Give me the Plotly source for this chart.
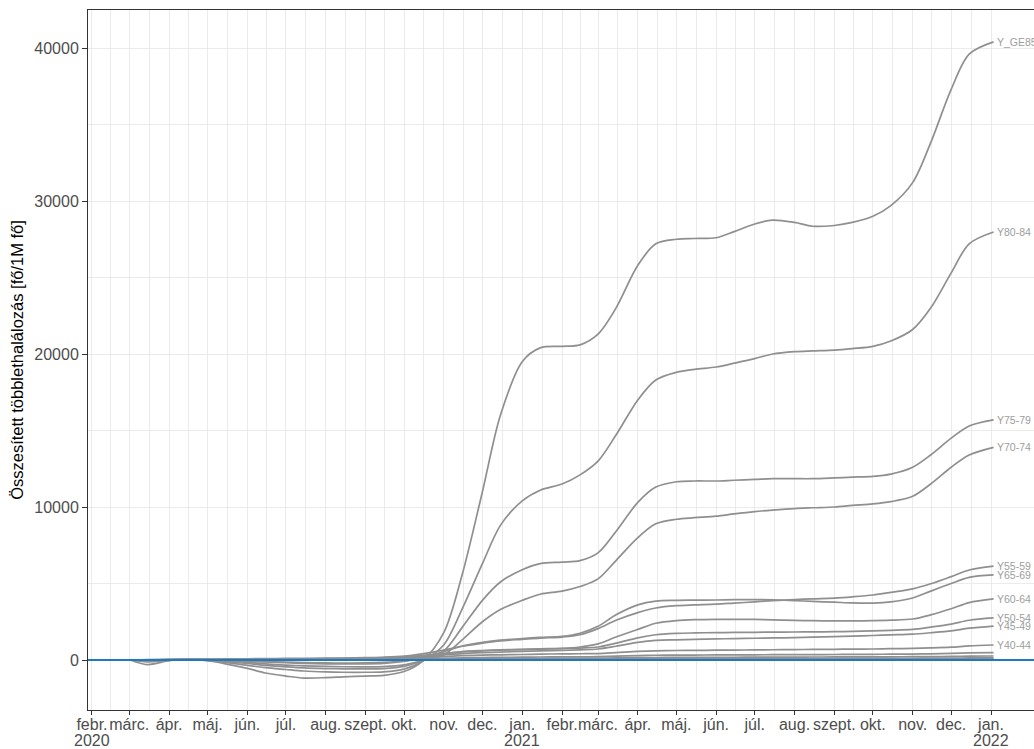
import pandas as pd
import plotly.graph_objects as go

# Sampling dates (roughly twice a month) for the cumulative excess-mortality curves
dates = [
    "2020-03-02", "2020-03-15", "2020-04-01", "2020-04-15", "2020-05-01", "2020-05-15",
    "2020-06-01", "2020-06-15", "2020-07-01", "2020-07-15", "2020-08-01", "2020-08-15",
    "2020-09-01", "2020-09-15", "2020-10-01", "2020-10-15", "2020-11-01", "2020-11-15",
    "2020-12-01", "2020-12-15",
    "2021-01-01", "2021-01-15", "2021-02-01", "2021-02-15", "2021-03-01", "2021-03-15",
    "2021-04-01", "2021-04-15", "2021-05-01", "2021-05-15", "2021-06-01", "2021-06-15",
    "2021-07-01", "2021-07-15", "2021-08-01", "2021-08-15", "2021-09-01", "2021-09-15",
    "2021-10-01", "2021-10-15", "2021-11-01", "2021-11-15", "2021-12-01", "2021-12-15",
    "2022-01-03",
]

# Cumulative excess deaths per million, by age group
y_ge85 = [0, -300, -50, 50, -50, -250, -550, -850, -1050, -1180, -1150, -1100, -1050, -1000,
          -750, -100, 1800, 5500, 11000, 16000,
          19500, 20400, 20500, 20600, 21300, 23000, 25800, 27200, 27500, 27550, 27600, 28000,
          28500, 28750, 28600, 28350, 28400, 28600, 29000, 29700, 31200, 33800, 37300, 39600,
          40400]
y80_84 = [0, -120, -20, 30, -30, -150, -350, -500, -620, -720, -780, -800, -800, -780,
          -600, -100, 1000, 3300, 6300, 8800,
          10400, 11100, 11500, 12100, 13000, 14700, 17000, 18300, 18800, 19000, 19150, 19400,
          19700, 20000, 20150, 20200, 20250, 20350, 20500, 20850, 21600, 23000, 25300, 27200,
          27970]
y75_79 = [0, -60, 0, 20, -20, -100, -230, -350, -450, -520, -560, -580, -580, -560,
          -420, -50, 600, 2100, 3900, 5100,
          5900, 6300, 6400, 6500, 7000, 8400, 10300, 11300, 11650, 11700, 11700, 11750,
          11800, 11850, 11850, 11850, 11900, 11950, 12000, 12150, 12600, 13400, 14500, 15300,
          15700]
y70_74 = [0, -40, 0, 20, 0, -60, -150, -250, -330, -380, -420, -440, -450, -430,
          -320, -50, 350, 1300, 2500, 3300,
          3900, 4300, 4500, 4800, 5300, 6500, 8000, 8900, 9200, 9300, 9400, 9550,
          9700, 9800, 9900, 9950, 10000, 10100, 10200, 10350, 10700, 11500, 12600, 13400,
          13900]
y65_69 = [0, 20, 40, 60, 30, -30, -80, -130, -180, -220, -250, -260, -260, -230,
          -100, 150, 550, 900, 1150, 1300,
          1400, 1480, 1550, 1750, 2200, 2950, 3600, 3850, 3900, 3910, 3920, 3940,
          3950, 3930, 3880, 3830, 3780, 3730, 3720, 3800, 4050, 4500, 5000, 5400,
          5560]
y60_64 = [0, 10, 20, 30, 10, -20, -60, -100, -140, -170, -190, -200, -190, -150,
          -50, 150, 400, 550, 620, 660,
          700, 730, 760, 850, 1050, 1500, 2000, 2400, 2580, 2640, 2660, 2660,
          2650, 2620, 2590, 2570, 2560, 2560, 2570, 2600, 2680, 2950, 3350, 3750,
          3990]
y55_59 = [0, 10, 30, 50, 60, 70, 80, 90, 100, 110, 120, 130, 150, 180,
          250, 400, 650, 900, 1100, 1250,
          1350, 1430, 1500, 1650, 2050, 2600, 3100, 3400, 3550, 3600, 3650, 3720,
          3800, 3880, 3950, 4000, 4050, 4130, 4250, 4420, 4650, 4980, 5450, 5880,
          6140]
y50_54 = [0, 10, 20, 30, 40, 50, 55, 60, 70, 80, 90, 100, 120, 150,
          200, 300, 430, 530, 600, 640,
          680, 710, 740, 780, 850, 1100, 1450, 1650, 1740, 1770, 1790, 1800,
          1810, 1820, 1830, 1840, 1850, 1870, 1900, 1940, 2000, 2150, 2350, 2600,
          2750]
y45_49 = [0, 5, 10, 20, 30, 40, 45, 50, 55, 60, 70, 80, 90, 110,
          150, 220, 330, 420, 480, 520,
          560, 590, 620, 660, 720, 900, 1150, 1280, 1320, 1350, 1380, 1400,
          1420, 1440, 1460, 1490, 1530, 1560, 1600, 1640, 1690, 1780, 1900, 2080,
          2220]
y40_44 = [0, 5, 10, 15, 20, 25, 30, 35, 40, 45, 50, 60, 70, 80,
          100, 150, 220, 280, 320, 340,
          360, 380, 400, 410, 420, 480, 560, 600, 620, 630, 640, 650,
          660, 670, 680, 690, 700, 710, 720, 740, 760, 790, 840, 920,
          980]
y35_39 = [0, 0, 5, 10, 10, 15, 15, 20, 20, 25, 30, 35, 40, 45,
          55, 80, 110, 140, 160, 175,
          185, 195, 205, 210, 220, 250, 290, 310, 320, 325, 330, 335,
          340, 345, 350, 355, 360, 365, 370, 380, 390, 405, 430, 460,
          480]
y30_34 = [0, 0, 0, 5, 5, 5, 10, 10, 10, 15, 15, 20, 20, 25,
          30, 45, 60, 75, 85, 95,
          100, 105, 110, 115, 120, 135, 155, 165, 170, 175, 180, 180,
          185, 190, 190, 195, 200, 205, 205, 210, 215, 225, 235, 250,
          260]
y25_29 = [0, 0, 0, 0, 5, 5, 5, 5, 5, 10, 10, 10, 10, 15,
          15, 20, 30, 40, 45, 50,
          55, 60, 60, 65, 65, 75, 85, 90, 90, 95, 95, 100,
          100, 100, 105, 105, 110, 110, 110, 115, 115, 120, 125, 135,
          140]
y20_24 = [0, 0, 0, 0, 0, 0, 5, 5, 5, 5, 5, 5, 10, 10,
          10, 10, 15, 20, 20, 25,
          25, 30, 30, 30, 35, 35, 40, 45, 45, 45, 50, 50,
          50, 50, 55, 55, 55, 55, 60, 60, 60, 60, 65, 70,
          70]
y15_19 = [0, 0, 0, 0, 0, 0, 0, 0, 5, 5, 5, 5, 5, 5,
          5, 5, 10, 10, 10, 15,
          15, 15, 15, 20, 20, 20, 25, 25, 25, 25, 25, 30,
          30, 30, 30, 30, 30, 35, 35, 35, 35, 35, 35, 40,
          40]
y10_14 = [0, 0, 0, 0, 0, 0, 0, 0, 0, 0, 0, 0, 0, 0,
          0, 0, 5, 5, 5, 5,
          5, 5, 5, 5, 5, 5, 10, 10, 10, 10, 10, 10,
          10, 10, 10, 10, 10, 10, 10, 10, 15, 15, 15, 15,
          15]
y5_9 = [0, 0, 0, 0, 0, 0, 0, 0, 0, 0, 0, 0, 0, 0,
        0, 0, 0, 0, 0, 5,
        5, 5, 5, 5, 5, 5, 5, 5, 5, 5, 5, 5,
        5, 5, 5, 5, 5, 5, 5, 5, 10, 10, 10, 10,
        10]
y_lt5 = [0, 0, 0, 0, 0, 0, 0, 0, 5, 5, 5, 5, 5, 5,
         5, 5, 5, 5, 10, 10,
         10, 10, 10, 10, 10, 10, 15, 15, 15, 15, 15, 15,
         15, 15, 15, 15, 20, 20, 20, 20, 20, 20, 20, 20,
         20]

series = [
    ("Y_LT5", y_lt5, False), ("Y5-9", y5_9, False), ("Y10-14", y10_14, False),
    ("Y15-19", y15_19, False), ("Y20-24", y20_24, False), ("Y25-29", y25_29, False),
    ("Y30-34", y30_34, False), ("Y35-39", y35_39, False), ("Y40-44", y40_44, True),
    ("Y45-49", y45_49, True), ("Y50-54", y50_54, True), ("Y55-59", y55_59, True),
    ("Y60-64", y60_64, True), ("Y65-69", y65_69, True), ("Y70-74", y70_74, True),
    ("Y75-79", y75_79, True), ("Y80-84", y80_84, True), ("Y_GE85", y_ge85, True),
]

# Axis ticks
month_ticks = pd.date_range("2020-02-01", "2022-01-01", freq="MS")
month_names = {1: "jan.", 2: "febr.", 3: "márc.", 4: "ápr.", 5: "máj.", 6: "jún.",
               7: "júl.", 8: "aug.", 9: "szept.", 10: "okt.", 11: "nov.", 12: "dec."}
month_labels = [month_names[d.month] for d in month_ticks]
year_ticks = ["2020-02-01", "2021-01-01", "2022-01-01"]
year_labels = ["2020", "2021", "2022"]
y_ticks = [0, 10000, 20000, 30000, 40000]
y_minor = [5000, 15000, 25000, 35000]

# Minor gridlines halfway between month breaks
minor_x = [month_ticks[i] + (month_ticks[i + 1] - month_ticks[i]) / 2
           for i in range(len(month_ticks) - 1)]

x_start = pd.Timestamp("2020-02-01") - pd.Timedelta(days=3.11)
x_end = pd.Timestamp("2022-01-01") + pd.Timedelta(days=33.48)

LINE = "#8f8f8f"
GRID = "#ebebeb"
TXT = "#4d4d4d"
FONT = "Liberation Sans, Arial, sans-serif"
TICK_SIZE = 16

fig = go.Figure()
x_dates = pd.to_datetime(dates)
for name, vals, _ in series:
    fig.add_trace(go.Scatter(
        x=x_dates, y=vals, mode="lines", name=name,
        line=dict(color=LINE, width=1.7, shape="spline", smoothing=0.9),
        hoverinfo="x+y+name", showlegend=False,
    ))

for name, vals, labelled in series:
    if labelled:
        fig.add_annotation(
            x=x_dates[-1], y=vals[-1], text=name, showarrow=False,
            xanchor="left", yanchor="middle", xshift=1,
            font=dict(family=FONT, size=10.5, color="#9d9d9d"),
        )

for xv, txt in zip(year_ticks, year_labels):
    fig.add_annotation(
        x=xv, y=0, yref="paper", yshift=-30, text=txt, showarrow=False,
        xanchor="center", yanchor="middle",
        font=dict(family=FONT, size=TICK_SIZE, color=TXT),
    )

# Zero reference line
fig.add_shape(type="line", xref="paper", x0=0, x1=1, y0=0, y1=0,
              line=dict(color="#1f78c0", width=2.2), layer="above")

fig.update_layout(
    width=1034, height=749,
    margin=dict(l=88, r=0, t=10, b=39),
    paper_bgcolor="white", plot_bgcolor="white",
    font=dict(family=FONT, color=TXT),
    xaxis=dict(
        type="date", range=[x_start, x_end], automargin=False,
        tickmode="array", tickvals=month_ticks, ticktext=month_labels,
        tickangle=0,
        tickfont=dict(family=FONT, size=TICK_SIZE, color=TXT),
        ticks="outside", ticklen=4, tickwidth=1, tickcolor="#333333",
        ticklabelstandoff=-4,
        showgrid=True, gridcolor=GRID, gridwidth=1.2,
        minor=dict(tickmode="array", tickvals=minor_x, showgrid=True,
                   gridcolor=GRID, gridwidth=0.6, ticks=""),
        showline=True, linecolor="#333333", linewidth=1, mirror=True,
        zeroline=False,
    ),
    yaxis=dict(
        range=[-3268, 42484], automargin=False,
        tickmode="array", tickvals=y_ticks, ticktext=[str(v) for v in y_ticks],
        tickfont=dict(family=FONT, size=TICK_SIZE, color=TXT),
        ticks="outside", ticklen=5, tickwidth=1, tickcolor="#333333",
        showgrid=True, gridcolor=GRID, gridwidth=1.2,
        minor=dict(tickmode="array", tickvals=y_minor, showgrid=True,
                   gridcolor=GRID, gridwidth=0.6, ticks=""),
        showline=True, linecolor="#333333", linewidth=1, mirror=False,
        zeroline=False,
        title=dict(text="Összesített többlethalálozás [fő/1M fő]",
                   font=dict(family=FONT, size=16.5, color="black"), standoff=6),
    ),
)

fig.write_html("out.html")
